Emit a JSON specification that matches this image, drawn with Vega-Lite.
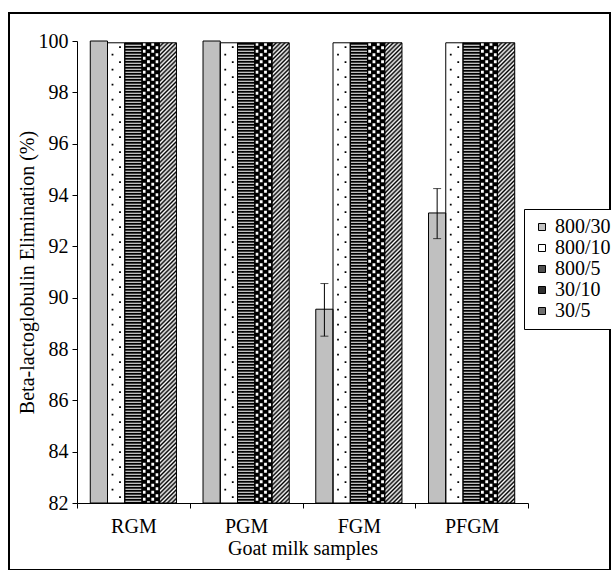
{
  "$schema": "https://vega.github.io/schema/vega-lite/v6.json",
  "width": 601,
  "height": 557,
  "padding": {"left": 9, "top": 13, "right": 0, "bottom": 0},
  "background": "white",
  "config": {
    "font": "Liberation Serif",
    "view": {"stroke": "black", "strokeWidth": 2},
    "axis": {"domainColor": "black", "tickColor": "black", "labelColor": "black", "titleColor": "black", "grid": false, "labelFont": "Liberation Serif", "titleFont": "Liberation Serif", "labelFontSize": 20, "titleFontSize": 20, "titleFontWeight": "normal"}
  },
  "data": {"values": [
    {"sample": "RGM", "series": "800/30", "value": 100},
    {"sample": "RGM", "series": "800/10", "value": 99.93},
    {"sample": "RGM", "series": "800/5", "value": 99.93},
    {"sample": "RGM", "series": "30/10", "value": 99.93},
    {"sample": "RGM", "series": "30/5", "value": 99.93},
    {"sample": "PGM", "series": "800/30", "value": 100},
    {"sample": "PGM", "series": "800/10", "value": 99.93},
    {"sample": "PGM", "series": "800/5", "value": 99.93},
    {"sample": "PGM", "series": "30/10", "value": 99.93},
    {"sample": "PGM", "series": "30/5", "value": 99.93},
    {"sample": "FGM", "series": "800/30", "value": 89.55, "lo": 88.5, "hi": 90.55},
    {"sample": "FGM", "series": "800/10", "value": 99.93},
    {"sample": "FGM", "series": "800/5", "value": 99.93},
    {"sample": "FGM", "series": "30/10", "value": 99.93},
    {"sample": "FGM", "series": "30/5", "value": 99.93},
    {"sample": "PFGM", "series": "800/30", "value": 93.3, "lo": 92.3, "hi": 94.25},
    {"sample": "PFGM", "series": "800/10", "value": 99.93},
    {"sample": "PFGM", "series": "800/5", "value": 99.93},
    {"sample": "PFGM", "series": "30/10", "value": 99.93},
    {"sample": "PFGM", "series": "30/5", "value": 99.93}
  ]},
  "encoding": {
    "x": {"field": "sample", "type": "nominal", "sort": ["RGM", "PGM", "FGM", "PFGM"], "title": "Goat milk samples",
      "scale": {"domain": ["RGM", "PGM", "FGM", "PFGM"], "range": [68, 519], "paddingInner": 0, "paddingOuter": 0},
      "axis": {"offset": -67, "tickBand": "extent", "tickSize": 5, "labelAngle": 0, "labelPadding": 8, "titlePadding": 2, "domainWidth": 1}},
    "y": {"field": "value", "type": "quantitative", "title": "Beta-lactoglobulin Elimination (%)",
      "scale": {"domain": [82, 100], "range": [490, 28], "nice": false, "zero": false},
      "axis": {"offset": -68, "values": [82, 84, 86, 88, 90, 92, 94, 96, 98, 100], "tickSize": 5, "labelPadding": 4, "titlePadding": 1, "domainWidth": 1}}
  },
  "layer": [
    {
      "mark": {"type": "bar"},
      "encoding": {
        "xOffset": {"field": "series", "type": "nominal", "scale": {"domain": ["800/30", "800/10", "800/5", "30/10", "30/5"], "paddingInner": 0, "paddingOuter": 0.77}},
        "y2": {"datum": 82},
        "fill": {"field": "series", "type": "nominal",
          "scale": {"domain": ["800/30", "800/10", "800/5", "30/10", "30/5"], "range": ["#c0c0c0", "#ffffff", "#505050", "#303030", "#707070"]},
          "legend": {"orient": "none", "legendX": 515, "legendY": 196, "title": null, "strokeColor": "black", "fillColor": "white", "padding": 8, "symbolType": "square", "symbolSize": 49, "symbolStrokeColor": "black", "symbolStrokeWidth": 1, "labelFont": "Liberation Serif", "labelFontSize": 20, "labelColor": "black", "rowPadding": 1, "labelOffset": 3}}
      }
    },
    {
      "transform": [{"filter": "datum.series === '800/5'"}],
      "mark": {"type": "bar", "fill": "white"},
      "encoding": {"xOffset": {"field": "series", "type": "nominal"}, "y2": {"datum": 82}}
    },
    {
      "transform": [{"filter": "datum.series === '30/10'"}],
      "mark": {"type": "bar", "fill": "black"},
      "encoding": {"xOffset": {"field": "series", "type": "nominal"}, "y2": {"datum": 82}}
    },
    {
      "transform": [{"filter": "datum.series === '30/5'"}],
      "mark": {"type": "bar", "fill": {"gradient": "linear", "x1": 0, "y1": 0, "x2": 0.0387, "y2": 1.036, "stops": [
        {"offset":0,"color":"#000"},{"offset":0.0045,"color":"#fff"},{"offset":0.009,"color":"#000"},{"offset":0.0135,"color":"#fff"},{"offset":0.018,"color":"#000"},{"offset":0.0225,"color":"#fff"},{"offset":0.027,"color":"#000"},{"offset":0.0315,"color":"#fff"},{"offset":0.036,"color":"#000"},{"offset":0.0405,"color":"#fff"},
        {"offset":0.045,"color":"#000"},{"offset":0.0495,"color":"#fff"},{"offset":0.054,"color":"#000"},{"offset":0.0585,"color":"#fff"},{"offset":0.063,"color":"#000"},{"offset":0.0675,"color":"#fff"},{"offset":0.072,"color":"#000"},{"offset":0.0765,"color":"#fff"},{"offset":0.081,"color":"#000"},{"offset":0.0855,"color":"#fff"},
        {"offset":0.09,"color":"#000"},{"offset":0.0945,"color":"#fff"},{"offset":0.099,"color":"#000"},{"offset":0.1035,"color":"#fff"},{"offset":0.108,"color":"#000"},{"offset":0.1125,"color":"#fff"},{"offset":0.117,"color":"#000"},{"offset":0.1215,"color":"#fff"},{"offset":0.126,"color":"#000"},{"offset":0.1305,"color":"#fff"},
        {"offset":0.135,"color":"#000"},{"offset":0.1395,"color":"#fff"},{"offset":0.144,"color":"#000"},{"offset":0.1485,"color":"#fff"},{"offset":0.153,"color":"#000"},{"offset":0.1575,"color":"#fff"},{"offset":0.162,"color":"#000"},{"offset":0.1665,"color":"#fff"},{"offset":0.171,"color":"#000"},{"offset":0.1755,"color":"#fff"},
        {"offset":0.18,"color":"#000"},{"offset":0.1845,"color":"#fff"},{"offset":0.189,"color":"#000"},{"offset":0.1935,"color":"#fff"},{"offset":0.198,"color":"#000"},{"offset":0.2025,"color":"#fff"},{"offset":0.207,"color":"#000"},{"offset":0.2115,"color":"#fff"},{"offset":0.216,"color":"#000"},{"offset":0.2205,"color":"#fff"},
        {"offset":0.225,"color":"#000"},{"offset":0.2295,"color":"#fff"},{"offset":0.234,"color":"#000"},{"offset":0.2385,"color":"#fff"},{"offset":0.243,"color":"#000"},{"offset":0.2475,"color":"#fff"},{"offset":0.252,"color":"#000"},{"offset":0.2565,"color":"#fff"},{"offset":0.261,"color":"#000"},{"offset":0.2655,"color":"#fff"},
        {"offset":0.27,"color":"#000"},{"offset":0.2745,"color":"#fff"},{"offset":0.279,"color":"#000"},{"offset":0.2835,"color":"#fff"},{"offset":0.288,"color":"#000"},{"offset":0.2925,"color":"#fff"},{"offset":0.297,"color":"#000"},{"offset":0.3015,"color":"#fff"},{"offset":0.306,"color":"#000"},{"offset":0.3105,"color":"#fff"},
        {"offset":0.315,"color":"#000"},{"offset":0.3195,"color":"#fff"},{"offset":0.324,"color":"#000"},{"offset":0.3285,"color":"#fff"},{"offset":0.333,"color":"#000"},{"offset":0.3375,"color":"#fff"},{"offset":0.342,"color":"#000"},{"offset":0.3465,"color":"#fff"},{"offset":0.351,"color":"#000"},{"offset":0.3555,"color":"#fff"},
        {"offset":0.36,"color":"#000"},{"offset":0.3645,"color":"#fff"},{"offset":0.369,"color":"#000"},{"offset":0.3735,"color":"#fff"},{"offset":0.378,"color":"#000"},{"offset":0.3825,"color":"#fff"},{"offset":0.387,"color":"#000"},{"offset":0.3915,"color":"#fff"},{"offset":0.396,"color":"#000"},{"offset":0.4005,"color":"#fff"},
        {"offset":0.405,"color":"#000"},{"offset":0.4095,"color":"#fff"},{"offset":0.414,"color":"#000"},{"offset":0.4185,"color":"#fff"},{"offset":0.423,"color":"#000"},{"offset":0.4275,"color":"#fff"},{"offset":0.432,"color":"#000"},{"offset":0.4365,"color":"#fff"},{"offset":0.441,"color":"#000"},{"offset":0.4455,"color":"#fff"},
        {"offset":0.45,"color":"#000"},{"offset":0.4545,"color":"#fff"},{"offset":0.459,"color":"#000"},{"offset":0.4635,"color":"#fff"},{"offset":0.468,"color":"#000"},{"offset":0.4725,"color":"#fff"},{"offset":0.477,"color":"#000"},{"offset":0.4815,"color":"#fff"},{"offset":0.486,"color":"#000"},{"offset":0.4905,"color":"#fff"},
        {"offset":0.495,"color":"#000"},{"offset":0.4995,"color":"#fff"},{"offset":0.504,"color":"#000"},{"offset":0.5085,"color":"#fff"},{"offset":0.513,"color":"#000"},{"offset":0.5175,"color":"#fff"},{"offset":0.522,"color":"#000"},{"offset":0.5265,"color":"#fff"},{"offset":0.531,"color":"#000"},{"offset":0.5355,"color":"#fff"},
        {"offset":0.54,"color":"#000"},{"offset":0.5445,"color":"#fff"},{"offset":0.549,"color":"#000"},{"offset":0.5535,"color":"#fff"},{"offset":0.558,"color":"#000"},{"offset":0.5625,"color":"#fff"},{"offset":0.567,"color":"#000"},{"offset":0.5715,"color":"#fff"},{"offset":0.576,"color":"#000"},{"offset":0.5805,"color":"#fff"},
        {"offset":0.585,"color":"#000"},{"offset":0.5895,"color":"#fff"},{"offset":0.594,"color":"#000"},{"offset":0.5985,"color":"#fff"},{"offset":0.603,"color":"#000"},{"offset":0.6075,"color":"#fff"},{"offset":0.612,"color":"#000"},{"offset":0.6165,"color":"#fff"},{"offset":0.621,"color":"#000"},{"offset":0.6255,"color":"#fff"},
        {"offset":0.63,"color":"#000"},{"offset":0.6345,"color":"#fff"},{"offset":0.639,"color":"#000"},{"offset":0.6435,"color":"#fff"},{"offset":0.648,"color":"#000"},{"offset":0.6525,"color":"#fff"},{"offset":0.657,"color":"#000"},{"offset":0.6615,"color":"#fff"},{"offset":0.666,"color":"#000"},{"offset":0.6705,"color":"#fff"},
        {"offset":0.675,"color":"#000"},{"offset":0.6795,"color":"#fff"},{"offset":0.684,"color":"#000"},{"offset":0.6885,"color":"#fff"},{"offset":0.693,"color":"#000"},{"offset":0.6975,"color":"#fff"},{"offset":0.702,"color":"#000"},{"offset":0.7065,"color":"#fff"},{"offset":0.711,"color":"#000"},{"offset":0.7155,"color":"#fff"},
        {"offset":0.72,"color":"#000"},{"offset":0.7245,"color":"#fff"},{"offset":0.729,"color":"#000"},{"offset":0.7335,"color":"#fff"},{"offset":0.738,"color":"#000"},{"offset":0.7425,"color":"#fff"},{"offset":0.747,"color":"#000"},{"offset":0.7515,"color":"#fff"},{"offset":0.756,"color":"#000"},{"offset":0.7605,"color":"#fff"},
        {"offset":0.765,"color":"#000"},{"offset":0.7695,"color":"#fff"},{"offset":0.774,"color":"#000"},{"offset":0.7785,"color":"#fff"},{"offset":0.783,"color":"#000"},{"offset":0.7875,"color":"#fff"},{"offset":0.792,"color":"#000"},{"offset":0.7965,"color":"#fff"},{"offset":0.801,"color":"#000"},{"offset":0.8055,"color":"#fff"},
        {"offset":0.81,"color":"#000"},{"offset":0.8145,"color":"#fff"},{"offset":0.819,"color":"#000"},{"offset":0.8235,"color":"#fff"},{"offset":0.828,"color":"#000"},{"offset":0.8325,"color":"#fff"},{"offset":0.837,"color":"#000"},{"offset":0.8415,"color":"#fff"},{"offset":0.846,"color":"#000"},{"offset":0.8505,"color":"#fff"},
        {"offset":0.855,"color":"#000"},{"offset":0.8595,"color":"#fff"},{"offset":0.864,"color":"#000"},{"offset":0.8685,"color":"#fff"},{"offset":0.873,"color":"#000"},{"offset":0.8775,"color":"#fff"},{"offset":0.882,"color":"#000"},{"offset":0.8865,"color":"#fff"},{"offset":0.891,"color":"#000"},{"offset":0.8955,"color":"#fff"},
        {"offset":0.9,"color":"#000"},{"offset":0.9045,"color":"#fff"},{"offset":0.909,"color":"#000"},{"offset":0.9135,"color":"#fff"},{"offset":0.918,"color":"#000"},{"offset":0.9225,"color":"#fff"},{"offset":0.927,"color":"#000"},{"offset":0.9315,"color":"#fff"},{"offset":0.936,"color":"#000"},{"offset":0.9405,"color":"#fff"},
        {"offset":0.945,"color":"#000"},{"offset":0.9495,"color":"#fff"},{"offset":0.954,"color":"#000"},{"offset":0.9585,"color":"#fff"},{"offset":0.963,"color":"#000"},{"offset":0.9675,"color":"#fff"},{"offset":0.972,"color":"#000"},{"offset":0.9765,"color":"#fff"},{"offset":0.981,"color":"#000"},{"offset":0.9855,"color":"#fff"},
        {"offset":0.99,"color":"#000"},{"offset":0.9945,"color":"#fff"},{"offset":0.999,"color":"#000"}
      ]}},
      "encoding": {"xOffset": {"field": "series", "type": "nominal"}, "y2": {"datum": 82}}
    },
    {
      "transform": [{"filter": "datum.series === '800/5'"}],
      "mark": {"type": "rule", "color": "black", "strokeWidth": 17.2, "strokeDash": [2, 1], "strokeCap": "butt"},
      "encoding": {"xOffset": {"field": "series", "type": "nominal"}, "y2": {"datum": 82}}
    },
    {
      "transform": [{"filter": "datum.series === '30/10'"}],
      "mark": {"type": "rule", "color": "white", "strokeWidth": 2.8, "strokeDash": [3, 4], "strokeDashOffset": 0, "strokeCap": "butt"},
      "encoding": {"x": {"field": "sample", "type": "nominal", "sort": ["RGM", "PGM", "FGM", "PFGM"], "bandPosition": 0.5956}, "y2": {"datum": 82}}
    },
    {
      "transform": [{"filter": "datum.series === '30/10'"}],
      "mark": {"type": "rule", "color": "white", "strokeWidth": 2.8, "strokeDash": [3, 4], "strokeDashOffset": 3.5, "strokeCap": "butt"},
      "encoding": {"x": {"field": "sample", "type": "nominal", "sort": ["RGM", "PGM", "FGM", "PFGM"], "bandPosition": 0.6337}, "y2": {"datum": 82}}
    },
    {
      "transform": [{"filter": "datum.series === '30/10'"}],
      "mark": {"type": "rule", "color": "white", "strokeWidth": 2.8, "strokeDash": [3, 4], "strokeDashOffset": 0, "strokeCap": "butt"},
      "encoding": {"x": {"field": "sample", "type": "nominal", "sort": ["RGM", "PGM", "FGM", "PFGM"], "bandPosition": 0.6718}, "y2": {"datum": 82}}
    },
    {
      "transform": [{"filter": "datum.series === '30/10'"}],
      "mark": {"type": "rule", "color": "white", "strokeWidth": 2.8, "strokeDash": [3, 4], "strokeDashOffset": 3.5, "strokeCap": "butt"},
      "encoding": {"x": {"field": "sample", "type": "nominal", "sort": ["RGM", "PGM", "FGM", "PFGM"], "bandPosition": 0.71}, "y2": {"datum": 82}}
    },
    {
      "transform": [{"filter": "datum.series === '800/10'"}],
      "mark": {"type": "rule", "color": "black", "strokeWidth": 1.8, "strokeDash": [1.8, 13.2], "strokeDashOffset": 4, "strokeCap": "butt"},
      "encoding": {"x": {"field": "sample", "type": "nominal", "sort": ["RGM", "PGM", "FGM", "PFGM"], "bandPosition": 0.3149}, "y2": {"datum": 82}}
    },
    {
      "transform": [{"filter": "datum.series === '800/10'"}],
      "mark": {"type": "rule", "color": "black", "strokeWidth": 1.8, "strokeDash": [1.8, 13.2], "strokeDashOffset": 11.5, "strokeCap": "butt"},
      "encoding": {"x": {"field": "sample", "type": "nominal", "sort": ["RGM", "PGM", "FGM", "PFGM"], "bandPosition": 0.3814}, "y2": {"datum": 82}}
    },
    {
      "mark": {"type": "bar", "fill": "white", "fillOpacity": 0, "stroke": "black", "strokeWidth": 1},
      "encoding": {"xOffset": {"field": "series", "type": "nominal"}, "y2": {"datum": 82}}
    },
    {
      "transform": [{"filter": "datum.lo != null"}],
      "mark": {"type": "rule", "color": "black", "strokeWidth": 1},
      "encoding": {"xOffset": {"field": "series", "type": "nominal"}, "y": {"field": "lo", "type": "quantitative", "title": "Beta-lactoglobulin Elimination (%)"}, "y2": {"field": "hi"}}
    },
    {
      "transform": [{"filter": "datum.lo != null"}],
      "mark": {"type": "tick", "color": "black", "thickness": 1, "size": 8, "orient": "horizontal"},
      "encoding": {"xOffset": {"field": "series", "type": "nominal"}, "y": {"field": "lo", "type": "quantitative", "title": "Beta-lactoglobulin Elimination (%)"}}
    },
    {
      "transform": [{"filter": "datum.lo != null"}],
      "mark": {"type": "tick", "color": "black", "thickness": 1, "size": 8, "orient": "horizontal"},
      "encoding": {"xOffset": {"field": "series", "type": "nominal"}, "y": {"field": "hi", "type": "quantitative", "title": "Beta-lactoglobulin Elimination (%)"}}
    }
  ]
}
